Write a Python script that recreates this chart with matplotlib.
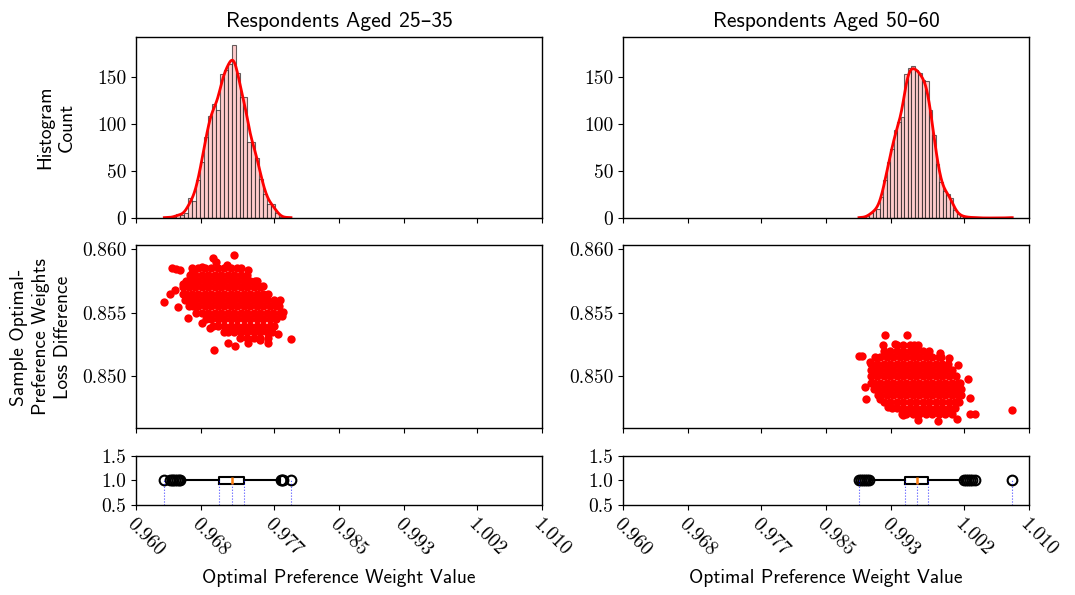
import numpy as np
import matplotlib.pyplot as plt
from matplotlib.gridspec import GridSpec

plt.rcParams['font.family'] = ['cmss10', 'DejaVu Sans']
plt.rcParams['axes.unicode_minus'] = False
plt.rcParams['font.size'] = 14

titles = ["Respondents Aged 25–35", "Respondents Aged 50–60"]
x_ticks = [0.960, 0.968, 0.977, 0.985, 0.993, 1.002, 1.010]

# histogram of the bootstrap weights: first bin edge, bin width, counts
young_hist_start = 0.96349
young_hist_width = 0.0004875
young_counts = [1, 0, 1, 4, 3, 5, 21, 18, 41, 60, 86, 109, 122, 115, 154, 158,
                164, 184, 155, 129, 129, 81, 81, 64, 42, 26, 15, 15, 5, 1, 0, 1]

old_hist_start = 0.98906
old_hist_width = 0.000429
old_counts = [1, 0, 2, 5, 8, 10, 22, 40, 60, 74, 94, 102, 108, 154, 160, 162,
              158, 155, 147, 146, 115, 89, 58, 38, 29, 26, 21, 8, 4, 2, 1, 1,
              0, 1, 0, 0, 0, 0, 0, 0, 0, 0, 0, 1]

# weight value vs loss difference, one row of samples per loss level
young_rows = [
    (0.8585, [0.9669, 0.9677, 0.9685, 0.9693, 0.9701, 0.9709, 0.9717, 0.9725, 0.9729]),
    (0.8580, [0.9667, 0.9673, 0.9681, 0.9689, 0.9697, 0.9705, 0.9713, 0.9721, 0.9729, 0.9737]),
    (0.8575, [0.9662, 0.9669, 0.9677, 0.9685, 0.9693, 0.9701, 0.9709, 0.9717, 0.9725, 0.9733,
              0.9741, 0.9746]),
    (0.8570, [0.9658, 0.9665, 0.9673, 0.9681, 0.9689, 0.9697, 0.9705, 0.9713, 0.9721, 0.9729,
              0.9737, 0.9745, 0.9753]),
    (0.8565, [0.9658, 0.9662, 0.9669, 0.9677, 0.9685, 0.9693, 0.9701, 0.9709, 0.9717, 0.9725,
              0.9733, 0.9741, 0.9749, 0.9757, 0.9762]),
    (0.8560, [0.9660, 0.9666, 0.9673, 0.9681, 0.9689, 0.9697, 0.9705, 0.9713, 0.9721, 0.9729,
              0.9737, 0.9745, 0.9753, 0.9761, 0.9770]),
    (0.8555, [0.9665, 0.9670, 0.9677, 0.9685, 0.9693, 0.9701, 0.9709, 0.9717, 0.9725, 0.9733,
              0.9741, 0.9749, 0.9757, 0.9765, 0.9772, 0.9776]),
    (0.8550, [0.9674, 0.9681, 0.9689, 0.9697, 0.9705, 0.9713, 0.9721, 0.9729, 0.9737, 0.9745,
              0.9753, 0.9761, 0.9769, 0.9777]),
    (0.8545, [0.9686, 0.9693, 0.9701, 0.9709, 0.9717, 0.9725, 0.9733, 0.9741, 0.9749, 0.9757,
              0.9765, 0.9773]),
    (0.8540, [0.9695, 0.9701, 0.9709, 0.9717, 0.9725, 0.9733, 0.9741, 0.9749, 0.9757, 0.9765,
              0.9770]),
    (0.8535, [0.9708, 0.9713, 0.9721, 0.9729, 0.9737, 0.9745, 0.9753, 0.9761, 0.9768]),
    (0.8530, [0.9728, 0.9737, 0.9745, 0.9753, 0.9762]),
]
young_edge_x = [0.96440, 0.96493, 0.96542, 0.96345, 0.96419, 0.96480, 0.96521, 0.96644,
                0.96809, 0.96911, 0.96961, 0.97137, 0.97219, 0.97383, 0.97527, 0.97630,
                0.97753, 0.97909, 0.97794, 0.97814, 0.97773, 0.97609, 0.97568, 0.97486,
                0.97383, 0.97207, 0.96944, 0.96985, 0.97117, 0.96809, 0.96686, 0.96583]
young_edge_y = [0.85853, 0.85848, 0.85840, 0.85583, 0.85651, 0.85677, 0.85546, 0.85462,
                0.85420, 0.85380, 0.85205, 0.85262, 0.85239, 0.85265, 0.85283, 0.85265,
                0.85336, 0.85291, 0.85472, 0.85506, 0.85604, 0.85638, 0.85709, 0.85750,
                0.85835, 0.85958, 0.85934, 0.85900, 0.85874, 0.85861, 0.85813, 0.85724]

old_rows = [
    (0.8525, [0.9937, 0.9945, 0.9953, 0.9958]),
    (0.8520, [0.9921, 0.9929, 0.9937, 0.9945, 0.9953, 0.9961, 0.9969, 0.9977]),
    (0.8515, [0.9910, 0.9917, 0.9925, 0.9933, 0.9941, 0.9949, 0.9957, 0.9965, 0.9973, 0.9981,
              0.9989, 0.9992]),
    (0.8510, [0.9905, 0.9913, 0.9921, 0.9929, 0.9937, 0.9945, 0.9953, 0.9961, 0.9969, 0.9977,
              0.9985, 0.9993, 1.0000]),
    (0.8505, [0.9905, 0.9909, 0.9917, 0.9925, 0.9933, 0.9941, 0.9949, 0.9957, 0.9965, 0.9973,
              0.9981, 0.9989, 0.9997, 1.0005]),
    (0.8500, [0.9905, 0.9913, 0.9921, 0.9929, 0.9937, 0.9945, 0.9953, 0.9961, 0.9969, 0.9977,
              0.9985, 0.9993, 1.0001, 1.0010]),
    (0.8495, [0.9906, 0.9909, 0.9917, 0.9925, 0.9933, 0.9941, 0.9949, 0.9957, 0.9965, 0.9973,
              0.9981, 0.9989, 0.9997, 1.0005, 1.0013, 1.0015]),
    (0.8490, [0.9909, 0.9913, 0.9921, 0.9929, 0.9937, 0.9945, 0.9953, 0.9961, 0.9969, 0.9977,
              0.9985, 0.9993, 1.0001, 1.0009, 1.0016]),
    (0.8485, [0.9914, 0.9917, 0.9925, 0.9933, 0.9941, 0.9949, 0.9957, 0.9965, 0.9973, 0.9981,
              0.9989, 0.9997, 1.0005, 1.0013, 1.0016]),
    (0.8480, [0.9922, 0.9929, 0.9937, 0.9945, 0.9953, 0.9961, 0.9969, 0.9977, 0.9985, 0.9993,
              1.0001, 1.0009, 1.0014]),
    (0.8475, [0.9931, 0.9937, 0.9945, 0.9953, 0.9961, 0.9969, 0.9977, 0.9985, 0.9993, 1.0001,
              1.0009]),
    (0.8470, [0.9943, 0.9949, 0.9957, 0.9965, 0.9973, 0.9981, 0.9989, 0.9997, 1.0005]),
]
old_edge_x = [0.99225, 0.99500, 0.99204, 0.98938, 0.98905, 0.99040, 0.98979, 0.98991,
              0.99164, 0.99266, 0.99451, 0.99636, 0.99875, 1.00109, 1.00273, 1.00334,
              1.00273, 1.00252, 1.00129, 1.00018, 0.99903, 0.99636, 0.99349, 1.00794]
old_edge_y = [0.85328, 0.85328, 0.85244, 0.85160, 0.85160, 0.85113, 0.84916, 0.84819,
              0.84819, 0.84758, 0.84693, 0.84659, 0.84646, 0.84667, 0.84701, 0.84706,
              0.84832, 0.84976, 0.85092, 0.85144, 0.85183, 0.85250, 0.85257, 0.84732]

# box summaries
young_box = dict(whislo=0.96575, q1=0.97022, med=0.97178, q3=0.97326, whishi=0.97775)
young_fliers = [0.96349, 0.96419, 0.96445, 0.96460, 0.96485, 0.96501, 0.96525, 0.96542,
                0.97785, 0.97800, 0.97814, 0.97909]
old_box = dict(whislo=0.99045, q1=0.99469, med=0.99616, q3=0.99759, whishi=1.00180)
old_fliers = [0.98906, 0.98935, 0.98960, 0.98985, 0.99005, 0.99025,
              1.00200, 1.00225, 1.00250, 1.00275, 1.00300, 1.00335, 1.00794]

groups = [
    (young_hist_start, young_hist_width, young_counts, young_rows, young_edge_x,
     young_edge_y, young_box, young_fliers),
    (old_hist_start, old_hist_width, old_counts, old_rows, old_edge_x,
     old_edge_y, old_box, old_fliers),
]

fig = plt.figure(figsize=(10.75, 5.95), dpi=100)
gs = GridSpec(3, 2, figure=fig, height_ratios=[181, 183, 49],
              left=0.1265, right=0.9572, top=0.9378, bottom=0.1513,
              wspace=0.2, hspace=0.2)

tick_font = dict(family='cmr10', size=14)

for col, (h0, hw, counts, rows, ex, ey, box, fliers) in enumerate(groups):
    ax_h = fig.add_subplot(gs[0, col])
    ax_s = fig.add_subplot(gs[1, col])
    ax_b = fig.add_subplot(gs[2, col])

    counts = np.array(counts, dtype=float)
    edges = h0 + hw * np.arange(len(counts) + 1)
    centers = (edges[:-1] + edges[1:]) / 2
    ax_h.hist(centers, bins=edges, weights=counts, facecolor=(1, 0.8, 0.8),
              edgecolor=(0, 0, 0, 0.6), linewidth=0.8)

    # gaussian kde of the binned sample, scaled to counts
    n = counts.sum()
    mean = np.sum(centers * counts) / n
    sd = np.sqrt(np.sum(counts * (centers - mean) ** 2) / n)
    bw = sd * n ** (-1 / 5)
    grid = np.linspace(edges[0], edges[-1], 300)
    dens = np.sum(counts[None, :] * np.exp(-0.5 * ((grid[:, None] - centers[None, :]) / bw) ** 2),
                  axis=1) / (n * bw * np.sqrt(2 * np.pi))
    ax_h.plot(grid, dens * n * hw, color='red', lw=2)
    ax_h.set_ylim(0, 193)
    ax_h.set_yticks([0, 50, 100, 150])
    ax_h.set_title(titles[col], fontsize=15.5, pad=7)

    sx = [x for y, xs in rows for x in xs] + list(ex)
    sy = [y for y, xs in rows for x in xs] + list(ey)
    ax_s.scatter(sx, sy, color='red', s=36, linewidths=0)
    ax_s.set_ylim(0.8459, 0.8603)
    ax_s.set_yticks([0.850, 0.855, 0.860])
    ax_s.set_yticklabels(['0.850', '0.855', '0.860'])

    stats = dict(box, fliers=fliers)
    ax_b.bxp([stats], positions=[1], widths=0.15, orientation='horizontal',
             boxprops=dict(color='black', lw=1.5),
             whiskerprops=dict(color='black', lw=1.5),
             capprops=dict(color='black', lw=1.5),
             medianprops=dict(color='tab:orange', lw=1.8),
             flierprops=dict(marker='o', markersize=7, markerfacecolor='none',
                             markeredgecolor='black', markeredgewidth=1.5))
    marks = [min(fliers), box['q1'], box['med'], box['q3'], max(fliers)]
    ax_b.vlines(marks, 0.5, 1.0, colors='blue', linestyles=':', lw=0.8, alpha=0.7)
    ax_b.set_ylim(0.5, 1.5)
    ax_b.set_yticks([0.5, 1.0, 1.5])
    ax_b.set_yticklabels(['0.5', '1.0', '1.5'])
    ax_b.set_xlabel("Optimal Preference Weight Value", fontsize=14, labelpad=7)

    for ax in (ax_h, ax_s, ax_b):
        ax.set_xlim(0.96, 1.01)
        ax.set_xticks(x_ticks)
        for lab in ax.get_yticklabels():
            lab.set_fontfamily('cmr10')
            lab.set_fontsize(14)
        for sp in ax.spines.values():
            sp.set_linewidth(1.0)
    ax_h.tick_params(labelbottom=False)
    ax_s.tick_params(labelbottom=False)
    ax_b.set_xticklabels(['%.3f' % t for t in x_ticks], rotation=-45, ha='left',
                         va='top', rotation_mode='anchor', **tick_font)

    if col == 0:
        ax_h.set_ylabel("Histogram\nCount", fontsize=14, linespacing=1.3, labelpad=15)
        ax_s.set_ylabel("Sample Optimal-\nPreference Weights\nLoss Difference",
                        fontsize=14, linespacing=1.3, labelpad=7)

fig.savefig("out.png", dpi=100)
